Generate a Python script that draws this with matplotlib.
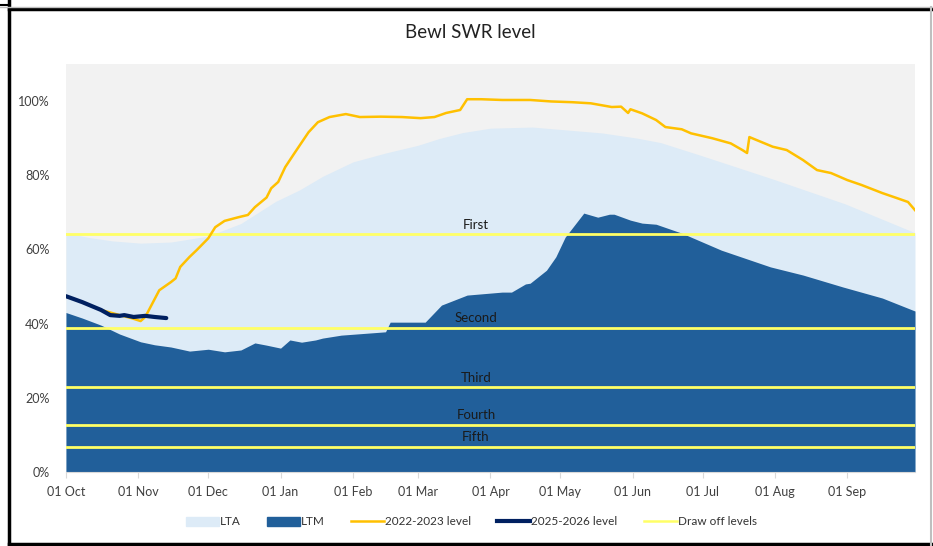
import pandas as pd
import matplotlib.pyplot as plt
import matplotlib.dates as mdates
from matplotlib.lines import Line2D
from matplotlib.patches import Patch
from matplotlib.ticker import FuncFormatter

plt.rcParams['font.family'] = ['Lato', 'DejaVu Sans']

start = pd.Timestamp('2022-10-01')

# LTA (long term average), days from 01 Oct
lta_days = [0, 10, 20, 32, 45, 61, 75, 90, 100, 110, 123, 137, 151, 160, 170, 182,
            200, 230, 245, 255, 272, 303, 334, 364]
lta_vals = [64.5, 63.2, 62.3, 61.7, 62.0, 63.6, 67.0, 73.0, 76.0, 79.7, 83.6, 86.0,
            88.1, 89.9, 91.5, 92.7, 93.0, 91.4, 90.0, 88.8, 85.4, 79.0, 72.3, 64.5]

# LTM (long term minimum)
ltm_days = [0, 7, 15, 23, 32, 38, 45, 53, 61, 68, 75, 81, 86, 92, 96, 101, 107, 110,
            118, 135, 137, 139, 154, 161, 172, 187, 191, 197, 199, 206, 210, 214, 222,
            228, 233, 235, 242, 247, 253, 264, 281, 302, 316, 333, 350, 364]
ltm_vals = [43.0, 41.5, 39.6, 37.2, 35.1, 34.3, 33.7, 32.6, 33.1, 32.4, 32.9, 34.8,
            34.2, 33.4, 35.6, 35.0, 35.6, 36.1, 36.9, 37.7, 37.8, 40.4, 40.4, 45.0,
            47.7, 48.5, 48.5, 50.7, 50.9, 54.4, 58.0, 63.3, 69.8, 68.7, 69.5, 69.5,
            67.9, 67.1, 66.8, 64.4, 59.8, 55.3, 53.1, 49.9, 46.9, 43.4]

# 2022-2023 level
y22_days = [0, 7, 15, 23, 28, 32, 34, 36, 40, 45, 47, 49, 53, 56, 61, 64, 68, 74, 78,
            81, 86, 88, 91, 94, 98, 104, 108, 113, 120, 126, 135, 144, 152, 158, 163,
            169, 172, 178, 187, 199, 208, 217, 225, 234, 238, 241, 242, 247, 253, 257,
            264, 268, 277, 285, 290, 292, 293, 298, 303, 309, 316, 322, 328, 335, 341,
            350, 356, 361, 364]
y22_vals = [47.4, 45.8, 43.7, 42.3, 41.5, 40.7, 41.8, 44.2, 49.0, 51.2, 52.2, 55.3,
            58.0, 59.8, 63.0, 66.0, 67.7, 68.7, 69.3, 71.4, 74.0, 76.5, 78.2, 82.2,
            86.0, 91.6, 94.3, 95.7, 96.5, 95.7, 95.8, 95.7, 95.4, 95.7, 96.8, 97.6,
            100.5, 100.5, 100.3, 100.3, 99.9, 99.7, 99.4, 98.4, 98.5, 96.8, 97.8,
            96.7, 94.9, 93.0, 92.4, 91.3, 90.0, 88.6, 86.8, 86.0, 90.3, 89.0, 87.7,
            86.8, 84.1, 81.4, 80.6, 78.7, 77.4, 75.2, 73.9, 72.8, 70.6]

# 2025-2026 level
y25_days = [0, 7, 15, 19, 23, 25, 29, 34, 38, 43]
y25_vals = [47.4, 45.8, 43.7, 42.3, 42.1, 42.3, 41.8, 42.1, 41.8, 41.5]

# draw off levels
level_names = ['First', 'Second', 'Third', 'Fourth', 'Fifth']
level_vals = [64.1, 38.9, 22.9, 12.8, 6.8]

month_ticks = pd.date_range('2022-10-01', '2023-09-01', freq='MS')


def to_dates(days):
    return start + pd.to_timedelta(days, unit='D')


fig = plt.figure(figsize=(9.33, 5.46), dpi=100)
ax = fig.add_axes([0.0707, 0.1355, 0.91, 0.7473])
ax.set_facecolor('#F2F2F2')

ax.fill_between(to_dates(lta_days), lta_vals, 0, color='#DDEBF7', lw=0, zorder=1)
ax.fill_between(to_dates(ltm_days), ltm_vals, 0, color='#215F9A', lw=0, zorder=2)

for name, v in zip(level_names, level_vals):
    ax.axhline(v, color='#FFFF66', lw=2, zorder=3)
    ax.text(0.483, v + 0.9, name, transform=ax.get_yaxis_transform(),
            ha='center', va='bottom', fontsize=9.5, color='#1a1a1a', zorder=6)

ax.plot(to_dates(y22_days), y22_vals, color='#FFC000', lw=1.8, zorder=4)
ax.plot(to_dates(y25_days), y25_vals, color='#002060', lw=3, zorder=5,
        solid_capstyle='round')

ax.set_xlim(start, pd.Timestamp('2023-09-30'))
ax.set_ylim(0, 110)
ax.set_yticks([0, 20, 40, 60, 80, 100])
ax.yaxis.set_major_formatter(FuncFormatter(lambda v, p: f'{v:.0f}%'))
ax.set_xticks(month_ticks)
ax.xaxis.set_major_formatter(mdates.DateFormatter('%d %b'))

for s in ['top', 'right', 'left']:
    ax.spines[s].set_visible(False)
ax.spines['bottom'].set_color('#D9D9D9')
ax.tick_params(axis='y', length=0, pad=12, labelsize=9, labelcolor='#404040')
ax.tick_params(axis='x', length=4, color='#D9D9D9', pad=6, labelsize=9,
               labelcolor='#404040')

fig.text(0.504, 0.94, 'Bewl SWR level', ha='center', va='center', fontsize=13.5,
         color='#222222')

handles = [Patch(color='#DDEBF7', label='LTA'),
           Patch(color='#215F9A', label='LTM'),
           Line2D([], [], color='#FFC000', lw=1.8, label='2022-2023 level'),
           Line2D([], [], color='#002060', lw=3, label='2025-2026 level'),
           Line2D([], [], color='#FFFF66', lw=1.8, label='Draw off levels')]
fig.legend(handles=handles, loc='center', bbox_to_anchor=(0.505, 0.044), ncol=5,
           frameon=False, fontsize=8.5, handlelength=2.8, handleheight=0.8,
           handletextpad=0.1, columnspacing=2.2, labelcolor='#333333')

# outer frame
W, H = 933, 546
def fline(x0, y0, x1, y1, c='black', lw=2.5):
    fig.add_artist(Line2D([x0 / W, x1 / W], [1 - y0 / H, 1 - y1 / H],
                          transform=fig.transFigure, color=c, lw=lw))

fline(9, 0, 9, 546)
fline(9, 9, 931, 9)
fline(9, 544, 931, 544)
fline(0, 5, 9, 5, lw=1.5)
fline(0, 7, 933, 7, c='#BFBFBF', lw=1)
fline(931, 7, 931, 546, c='#BFBFBF', lw=1.5)

fig.savefig('out.png', dpi=100)
